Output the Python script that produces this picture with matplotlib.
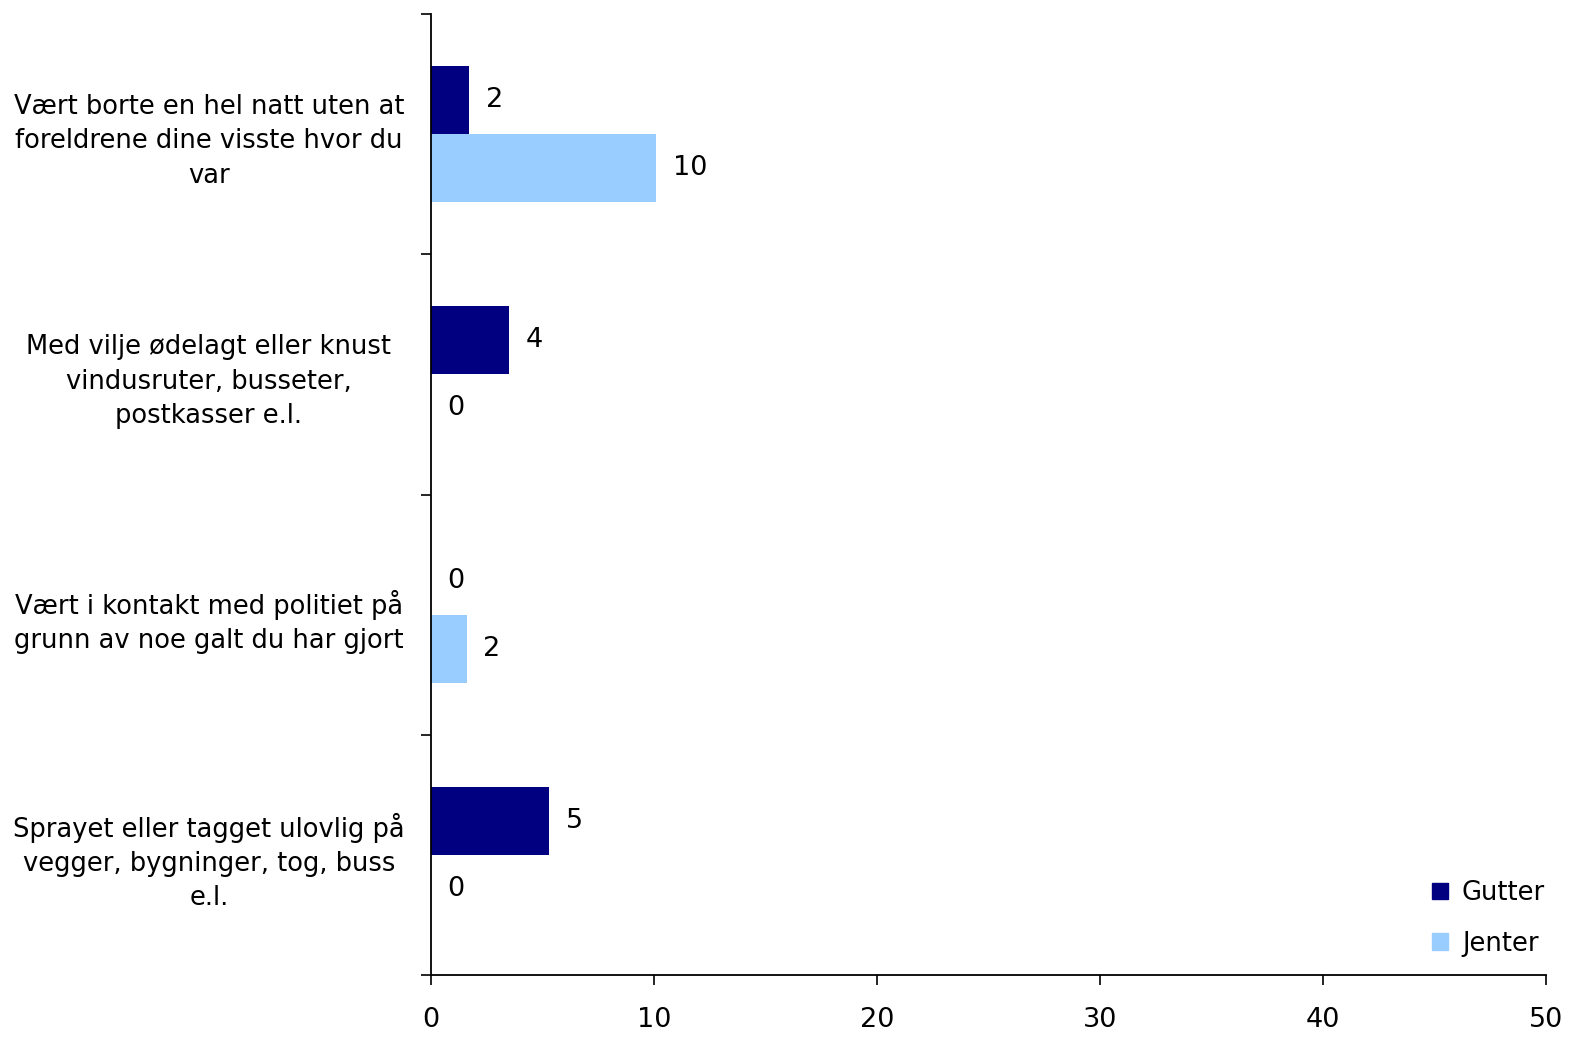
import matplotlib
matplotlib.use("Agg")
import matplotlib.pyplot as plt
import numpy as np
from matplotlib.patches import Patch

categories = [
    "Vært borte en hel natt uten at\nforeldrene dine visste hvor du\nvar",
    "Med vilje ødelagt eller knust\nvindusruter, busseter,\npostkasser e.l.",
    "Vært i kontakt med politiet på\ngrunn av noe galt du har gjort",
    "Sprayet eller tagget ulovlig på\nvegger, bygninger, tog, buss\ne.l.",
]
gutter = [1.7, 3.5, 0.0, 5.3]
jenter = [10.1, 0.0, 1.6, 0.0]
series_names = ["Gutter", "Jenter"]
colors = ["#000080", "#99CCFF"]
xticks = [0, 10, 20, 30, 40, 50]

plt.rcParams['font.family'] = ['DejaVu Sans']
fig = plt.figure(figsize=(15.81, 10.38), dpi=100)
ax = fig.add_axes([431/1581, 1-975/1038, (1546-431)/1581, (975-14)/1038])

y = np.arange(len(categories))
h = 0.283
bars_g = ax.barh(y - h/2, gutter, height=h, color=colors[0], label=series_names[0])
bars_j = ax.barh(y + h/2, jenter, height=h, color=colors[1], label=series_names[1])

fs = 18.5
for bars, vals in [(bars_g, gutter), (bars_j, jenter)]:
    for b, v in zip(bars, vals):
        ax.annotate(f"{round(v):d}", xy=(v, b.get_y() + b.get_height()/2),
                    xytext=(12, 0), textcoords="offset points",
                    ha="left", va="center", fontsize=19.5)

ax.set_xlim(0, 50)
ax.set_ylim(len(categories) - 0.5, -0.5)
ax.set_xticks(xticks)
ax.set_xticklabels([str(t) for t in xticks], fontsize=19.5)
ax.set_yticks(y)
ax.set_yticklabels(categories, fontsize=fs, ha="center", linespacing=1.42)
ax.tick_params(axis="y", which="major", length=0, pad=160)
ax.set_yticks(np.arange(-0.5, len(categories), 1.0), minor=True)
ax.tick_params(axis="y", which="minor", length=7, width=1.2, direction="out")
ax.tick_params(axis="x", length=7, width=1.2, direction="out", pad=16)
for s in ["top", "right"]:
    ax.spines[s].set_visible(False)
for s in ["left", "bottom"]:
    ax.spines[s].set_linewidth(1.3)

handles = [Patch(color=c, label=n) for c, n in zip(colors, series_names)]
ax.legend(handles=handles, loc="lower right", bbox_to_anchor=(1.02, -0.005), frameon=False,
          fontsize=fs, handlelength=0.6, handleheight=0.6, handletextpad=0.55, labelspacing=0.95)

fig.savefig("out.png", dpi=100)
